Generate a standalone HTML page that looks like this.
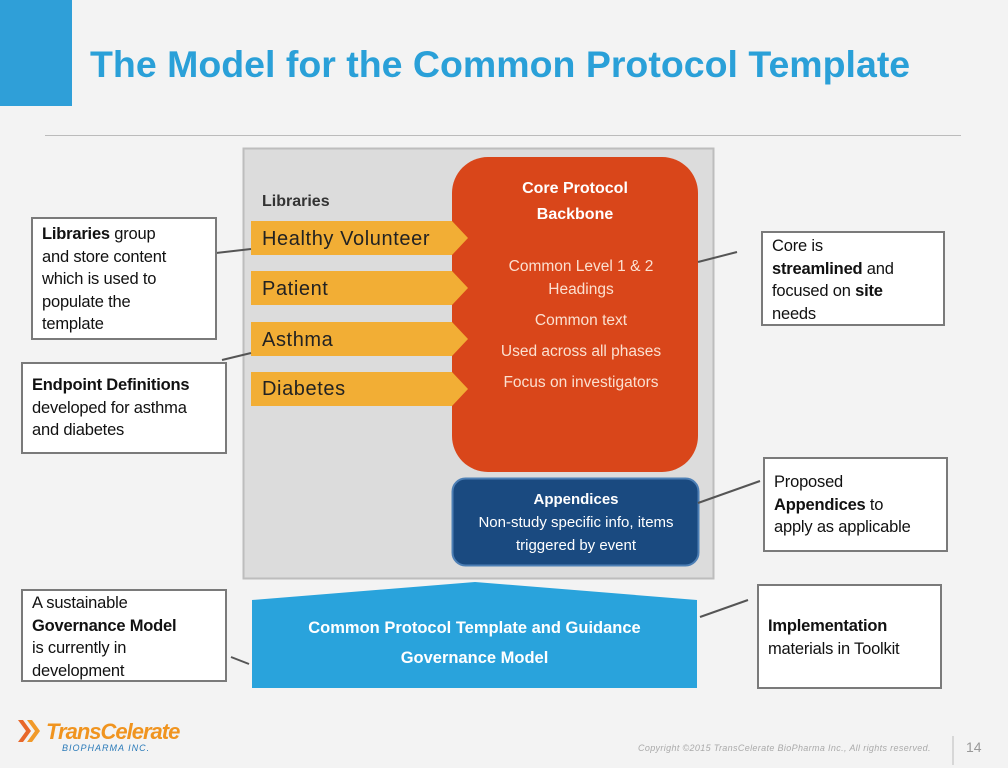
<!DOCTYPE html>
<html><head><meta charset="utf-8"><style>
body{margin:0;width:1008px;height:768px;background:#f3f3f3;font-family:"Liberation Sans",sans-serif;position:relative;overflow:hidden}
.a{position:absolute}
.cb{position:absolute;background:#fff;border:2px solid #7a7a7a;box-sizing:border-box;font-size:16.5px;line-height:22.5px;color:#111;padding:4px 9px;white-space:nowrap;letter-spacing:-0.2px}
.lb{position:absolute;left:262px;font-size:20px;color:#222;letter-spacing:0.6px}
</style></head><body>
<div class="a" style="left:0;top:0;width:72px;height:106px;background:#2f9fd8"></div>
<div class="a" style="left:90px;top:43px;font-size:37.5px;font-weight:bold;color:#2aa0d8;white-space:nowrap">The Model for the Common Protocol Template</div>
<div class="a" style="left:45px;top:135px;width:916px;height:1px;background:#bbb"></div>
<svg class="a" style="left:0;top:0" width="1008" height="768">
<rect x="243.5" y="148.5" width="470" height="430" fill="#dcdcdc" stroke="#bdbdbd" stroke-width="2"/>
<rect x="452" y="157" width="246" height="315" rx="36" fill="#d9461a"/>
<rect x="452.5" y="478.5" width="246" height="87" rx="13" fill="#1a4a80" stroke="#4d7fb5" stroke-width="2"/>
<g fill="#f2ae35">
<polygon points="251,221 452,221 468,238 452,255 251,255"/>
<polygon points="251,271 452,271 468,288 452,305 251,305"/>
<polygon points="251,322 452,322 468,339 452,356 251,356"/>
<polygon points="251,372 452,372 468,389 452,406 251,406"/>
</g>
<polygon points="252,600 475,582 697,600 697,688 252,688" fill="#29a3dc"/>
<g stroke="#555" stroke-width="2">
<line x1="216" y1="253" x2="251" y2="249"/><line x1="222" y1="360" x2="251" y2="353"/>
<line x1="698" y1="262" x2="737" y2="252"/><line x1="698" y1="503" x2="760" y2="481"/>
<line x1="231" y1="657" x2="249" y2="664"/><line x1="700" y1="617" x2="748" y2="600"/>
</g>
<line x1="953" y1="736" x2="953" y2="765" stroke="#bbb"/>
<polygon points="18,720 26,731 18,742 23,742 31,731 23,720" fill="#e8682a"/>
<polygon points="27,720 35,731 27,742 32,742 40,731 32,720" fill="#f19a2a"/>
</svg>
<div class="a" style="left:262px;top:193px;font-size:16px;font-weight:bold;color:#333">Libraries</div>
<div class="lb" style="top:228px">Healthy Volunteer</div>
<div class="lb" style="top:278px">Patient</div>
<div class="lb" style="top:329px">Asthma</div>
<div class="lb" style="top:378px">Diabetes</div>
<div class="a" style="left:452px;top:176px;width:246px;text-align:center;color:#fff;font-weight:bold;font-size:16px;line-height:26px">Core Protocol<br>Backbone</div>
<div class="a" style="left:460px;top:255px;width:242px;text-align:center;color:#fbe0d0;font-size:15.5px;line-height:23px">Common Level 1 &amp; 2<br>Headings<div style="margin-top:8px">Common text</div><div style="margin-top:8px">Used across all phases</div><div style="margin-top:8px">Focus on investigators</div></div>
<div class="a" style="left:452px;top:488px;width:248px;text-align:center;color:#fff;font-size:15px;line-height:23px"><b>Appendices</b><br>Non-study specific info, items<br>triggered by event</div>
<div class="a" style="left:252px;top:613px;width:445px;text-align:center;color:#fff;font-weight:bold;font-size:16.5px;line-height:30px">Common Protocol Template and Guidance<br>Governance Model</div>
<div class="cb" style="left:31px;top:217px;width:186px;height:123px;padding-top:4px"><b>Libraries</b> group<br>and store content<br>which is used to<br>populate the<br>template</div>
<div class="cb" style="left:21px;top:362px;width:206px;height:92px;padding-top:10px"><b>Endpoint Definitions</b><br>developed for asthma<br>and diabetes</div>
<div class="cb" style="left:761px;top:231px;width:184px;height:95px;padding-top:2px">Core is<br><b>streamlined</b> and<br>focused on <b>site</b><br>needs</div>
<div class="cb" style="left:763px;top:457px;width:185px;height:95px;padding-top:12px">Proposed<br><b>Appendices</b> to<br>apply as applicable</div>
<div class="cb" style="left:21px;top:589px;width:206px;height:93px;padding-top:1px">A sustainable<br><b>Governance Model</b><br>is currently in<br>development</div>
<div class="cb" style="left:757px;top:584px;width:185px;height:105px;padding-top:29px"><b>Implementation</b><br>materials in Toolkit</div>
<div class="a" style="left:46px;top:719px;font-size:22px;font-weight:bold;font-style:italic;color:#f0941f;letter-spacing:-1px">TransCelerate</div>
<div class="a" style="left:62px;top:743px;font-size:9px;font-style:italic;color:#2a7ab8;letter-spacing:1px">BIOPHARMA INC.</div>
<div class="a" style="left:638px;top:743px;font-size:9px;font-style:italic;color:#aaa;letter-spacing:0.35px;white-space:nowrap">Copyright ©2015 TransCelerate BioPharma Inc., All rights reserved.</div>
<div class="a" style="left:966px;top:739px;font-size:14px;color:#999">14</div>
</body></html>
